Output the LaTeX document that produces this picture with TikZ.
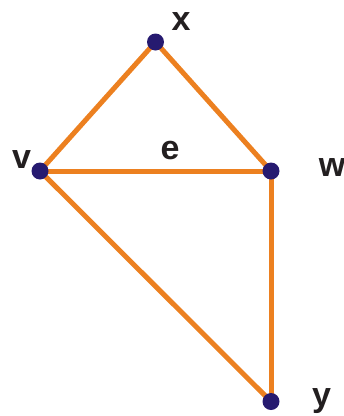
\documentclass[tikz,border=0pt]{standalone}
\usepackage{fontspec}
\setmainfont{Liberation Sans}
\definecolor{edgeorange}{RGB}{236,128,32}
\definecolor{dotblue}{RGB}{38,26,112}
\definecolor{labelblack}{RGB}{35,31,32}
\tikzset{
  vtx/.style={circle,fill=dotblue,inner sep=0pt,minimum size=17pt},
  edg/.style={draw=edgeorange,line width=5pt},
  lbl/.style={anchor=base,inner sep=0pt,text=labelblack,font=\bfseries\fontsize{34}{40}\selectfont}
}
\begin{document}
\begin{tikzpicture}[x=1pt,y=-1pt]
\path[use as bounding box,clip] (0,0) rectangle (344,416);
\coordinate (cx) at (155.5,42);
\coordinate (cv) at (40,171);
\coordinate (cw) at (271,171);
\coordinate (cy) at (271,401.5);
\draw[edg] (cx) -- (cv);
\draw[edg] (cx) -- (cw);
\draw[edg] (cv) -- (cw);
\draw[edg] (cw) -- (cy);
\draw[edg] (cv) -- (cy);
\node[vtx] (x) at (cx) {};
\node[vtx] (v) at (cv) {};
\node[vtx] (w) at (cw) {};
\node[vtx] (y) at (cy) {};
\node[lbl] (lx) at (181,30) {x};
\node[lbl] (lv) at (21.7,168.3) {v};
\node[lbl] (lw) at (332,176.7) {w};
\node[lbl] (ly) at (321.7,406) {y};
\node[lbl] (le) at (170,159) {e};
\end{tikzpicture}
\end{document}
